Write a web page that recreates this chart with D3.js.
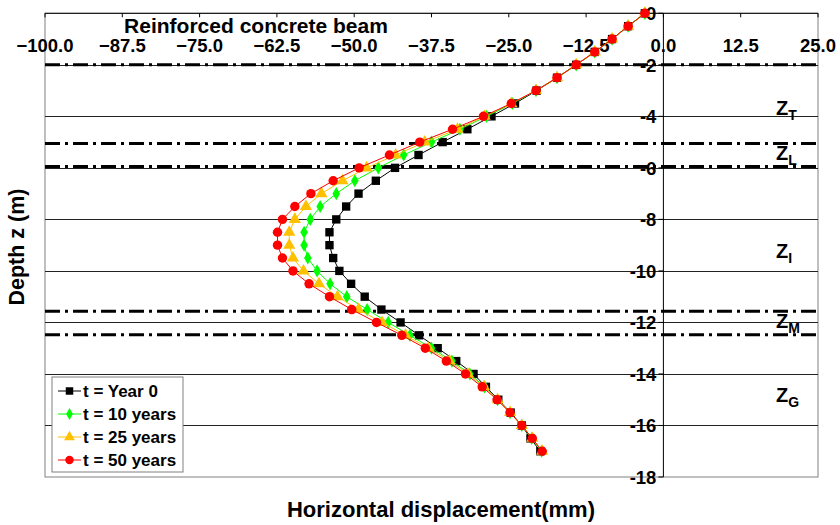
<!DOCTYPE html>
<html><head><meta charset="utf-8">
<script src="https://cdn.jsdelivr.net/npm/d3@7"></script>
<style>
html,body{margin:0;padding:0;background:#fff;}
svg{display:block;font-family:"Liberation Sans",Arial,sans-serif;font-weight:bold;}
</style></head>
<body><svg id="c" width="840" height="525"></svg>
<script>
// ---- data ----
const depths = [0,-0.5,-1,-1.5,-2,-2.5,-3,-3.5,-4,-4.5,-5,-5.5,-6,-6.5,-7,-7.5,-8,-8.5,-9,-9.5,-10,-10.5,-11,-11.5,-12,-12.5,-13,-13.5,-14,-14.5,-15,-15.5,-16,-16.5,-17];
const year0   = [-3.0,-5.7,-8.3,-11.1,-14.1,-17.2,-20.5,-24.0,-27.8,-31.7,-35.7,-39.6,-43.4,-46.5,-49.3,-51.3,-52.9,-54.0,-54.0,-53.4,-52.4,-50.5,-48.3,-45.6,-42.5,-39.5,-36.5,-33.5,-30.7,-28.7,-26.7,-24.7,-22.9,-21.5,-19.9];
const years10 = [-3.0,-5.7,-8.3,-11.1,-14.1,-17.2,-20.6,-24.4,-28.6,-32.9,-37.5,-42.0,-46.1,-49.9,-52.9,-55.5,-57.1,-58.1,-58.1,-57.5,-56.0,-53.9,-51.2,-47.9,-44.5,-41.0,-37.5,-34.2,-31.3,-28.9,-26.8,-24.8,-22.9,-21.3,-19.7];
const years25 = [-3.0,-5.7,-8.3,-11.1,-14.1,-17.2,-20.6,-24.6,-28.9,-33.3,-38.6,-43.3,-48.0,-51.9,-55.3,-57.8,-59.6,-60.5,-60.5,-59.9,-58.2,-55.7,-52.7,-49.3,-45.5,-41.7,-38.0,-34.6,-31.6,-29.0,-26.8,-24.8,-22.9,-21.2,-19.6];
const years50 = [-3.0,-5.7,-8.3,-11.1,-14.1,-17.2,-20.6,-24.6,-29.1,-34.1,-39.4,-44.3,-49.2,-53.4,-57.0,-59.6,-61.6,-62.4,-62.4,-61.6,-59.9,-57.3,-54.0,-50.4,-46.4,-42.3,-38.5,-35.1,-32.0,-29.3,-26.9,-24.8,-22.9,-21.2,-19.6];
const seriesNames = ["t = Year 0","t = 10 years","t = 25 years","t = 50 years"];
const xTicks = [-100,-87.5,-75,-62.5,-50,-37.5,-25,-12.5,0,12.5,25];
const yTicks = [0,-2,-4,-6,-8,-10,-12,-14,-16,-18];
const zoneLines = [-2,-5.05,-5.95,-11.57,-12.48];
const zoneNames = ["T","L","I","M","G"];
const zoneLabelDepth = [-3.95,-5.7,-9.5,-12.2,-15.1];

// ---- setup ----
const svg = d3.select("#c");
const x = d3.scaleLinear().domain([-100,25]).range([45,818]);
const y = d3.scaleLinear().domain([0,-18]).range([13.3,477]);
const colors = ["#000000","#00ff00","#ffc000","#ff0000"];
const symbols = [d3.symbolSquare,d3.symbolDiamond,d3.symbolTriangle,d3.symbolCircle];
const symSizes = [70,50,64,70];
const data = [year0,years10,years25,years50];

// frame
svg.append("rect").attr("x",x(-100)).attr("y",y(0)).attr("width",x(25)-x(-100)).attr("height",y(-18)-y(0))
  .attr("fill","none").attr("stroke","#808080").attr("stroke-width",1);

// gridlines
svg.append("g").selectAll("line").data(yTicks.filter(d=>d<0 && d>-18)).join("line")
  .attr("x1",x(-100)).attr("x2",x(25)).attr("y1",d=>Math.round(y(d))+0.5).attr("y2",d=>Math.round(y(d))+0.5)
  .attr("stroke","#222").attr("stroke-width",1);

// zone dash-dot lines
svg.append("g").selectAll("line").data(zoneLines).join("line")
  .attr("x1",x(-100)).attr("x2",x(25)).attr("y1",d=>y(d)).attr("y2",d=>y(d))
  .attr("stroke","#000").attr("stroke-width",3).attr("stroke-dasharray","15,5,3,5");

// top x axis
const xAxisG = svg.append("g").attr("transform",`translate(0,${y(0)})`);
xAxisG.append("line").attr("x1",x(-100)).attr("x2",x(25)).attr("stroke","#000").attr("stroke-width",1);
xAxisG.selectAll(".tk").data(xTicks).join("line").attr("class","tk")
  .attr("x1",d=>x(d)).attr("x2",d=>x(d)).attr("y1",0).attr("y2",4).attr("stroke","#000");
xAxisG.selectAll("text").data(xTicks).join("text")
  .attr("x",d=>x(d)).attr("y",39).attr("text-anchor","middle").attr("font-size","18.5px")
  .text(d=>d3.format(".1f")(d));

// vertical y axis at x=0
const yAxisG = svg.append("g").attr("transform",`translate(${x(0)},0)`);
yAxisG.append("line").attr("y1",y(0)).attr("y2",y(-18)).attr("stroke","#000");
yAxisG.selectAll(".tk").data(yTicks).join("line").attr("class","tk")
  .attr("x1",-5).attr("x2",0).attr("y1",d=>y(d)).attr("y2",d=>y(d)).attr("stroke","#000");
yAxisG.selectAll("text").data(yTicks).join("text")
  .attr("x",-7).attr("y",d=>y(d)+7).attr("text-anchor","end").attr("font-size","18.5px")
  .text(d=>d);

// title inside
svg.append("text").attr("x",256).attr("y",33).attr("text-anchor","middle").attr("font-size","21px")
  .text("Reinforced concrete beam");

// zone labels
zoneNames.forEach((n,i)=>{
  const t = svg.append("text").attr("x",776).attr("y",y(zoneLabelDepth[i])).attr("font-size","20px");
  t.append("tspan").text("Z");
  t.append("tspan").attr("font-size","14px").attr("dy",5).text(n);
});

// series
const line = d3.line().x(d=>x(d[0])).y(d=>y(d[1]));
data.forEach((vals,i)=>{
  const pts = vals.map((v,j)=>[v,depths[j]]);
  const g = svg.append("g");
  g.append("path").attr("d",line(pts)).attr("fill","none").attr("stroke",colors[i]).attr("stroke-width",1);
  g.selectAll("path.m").data(pts).join("path").attr("class","m")
    .attr("d",d3.symbol().type(symbols[i]).size(symSizes[i]))
    .attr("transform",d=>`translate(${x(d[0])},${y(d[1])})`)
    .attr("fill",colors[i]);
});

// legend
const lg = svg.append("g");
lg.append("rect").attr("x",52).attr("y",377).attr("width",131).attr("height",95)
  .attr("fill","#fff").attr("stroke","#808080");
seriesNames.forEach((n,i)=>{
  const yy = 391 + i*23;
  lg.append("line").attr("x1",58).attr("x2",81).attr("y1",yy).attr("y2",yy).attr("stroke",colors[i]);
  lg.append("path").attr("d",d3.symbol().type(symbols[i]).size(symSizes[i]*0.8)())
    .attr("transform",`translate(69.5,${yy})`).attr("fill",colors[i]);
  lg.append("text").attr("x",83).attr("y",yy+6).attr("font-size","17px").text(n);
});

// axis titles
svg.append("text").attr("x",441).attr("y",517).attr("text-anchor","middle").attr("font-size","22px")
  .text("Horizontal displacement(mm)");
svg.append("text").attr("transform","translate(24,247) rotate(-90)").attr("text-anchor","middle").attr("font-size","21.5px")
  .text("Depth z (m)");
</script></body></html>
